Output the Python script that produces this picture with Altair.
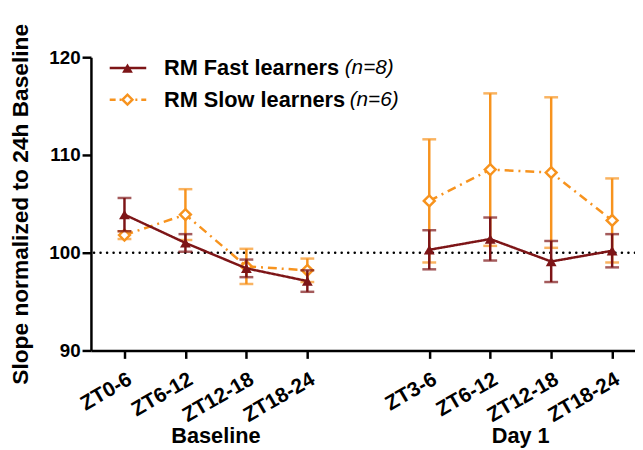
import altair as alt
import pandas as pd

# ---- data ----
positions = [1, 2, 3, 4, 6, 7, 8, 9]
tick_labels = ["ZT0-6", "ZT6-12", "ZT12-18", "ZT18-24", "ZT3-6", "ZT6-12", "ZT12-18", "ZT18-24"]
phases = ["Baseline"] * 4 + ["Day 1"] * 4
fast_mean = [103.9, 101.0, 98.4, 97.1, 100.3, 101.4, 99.1, 100.2]
fast_err = [1.7, 0.9, 0.9, 1.1, 2.0, 2.2, 2.1, 1.7]
slow_mean = [101.8, 103.9, 98.6, 98.2, 105.3, 108.5, 108.2, 103.3]
slow_err = [0.4, 2.6, 1.8, 1.2, 6.3, 7.8, 7.7, 4.3]
series_names = ["RM Fast learners", "RM Slow learners"]
series_n = ["(n=8)", "(n=6)"]
group_names = ["Baseline", "Day 1"]

FAST = "#7d1517"
SLOW = "#f7931e"
FONT = "Liberation Sans"

rows = []
for name, means, errs in [(series_names[0], fast_mean, fast_err), (series_names[1], slow_mean, slow_err)]:
    for p, lab, ph, m, e in zip(positions, tick_labels, phases, means, errs):
        rows.append({"series": name, "pos": p, "label": lab, "phase": ph,
                     "mean": m, "lo": m - e, "hi": m + e})
df = pd.DataFrame(rows)

grp = pd.DataFrame({"phase": group_names,
                    "pos": [sum(p for p, ph in zip(positions, phases) if ph == g) /
                            sum(1 for ph in phases if ph == g) for g in group_names]})

W, H = 551, 297
xmin, xmax = 0.45, 9.375

label_expr = "{" + ",".join(f"'{p}':'{l}'" for p, l in zip(positions, tick_labels)) + "}[datum.value]"

xscale = alt.Scale(domain=[xmin, xmax], nice=False, zero=False)
yscale = alt.Scale(domain=[90, 120], nice=False, zero=False)

xenc = alt.X("pos:Q", scale=xscale,
             axis=alt.Axis(values=positions, labelExpr=label_expr, title=None,
                           labelAngle=-30, labelAlign="right", labelBaseline="top",
                           labelFontSize=21, labelPadding=10, labelOverlap=False, tickSize=8,
                           labelBound=False))
yenc = alt.Y("mean:Q", scale=yscale,
             axis=alt.Axis(values=[90, 100, 110, 120], title="Slope normalized to 24h Baseline",
                           titleFontSize=23, titlePadding=17, labelFontSize=19, labelPadding=2,
                           tickSize=9))

color = alt.Color("series:N", scale=alt.Scale(domain=series_names, range=[FAST, SLOW]), legend=None)
dash = alt.StrokeDash("series:N", scale=alt.Scale(domain=series_names, range=[[1, 0], [9, 5, 2, 5]]),
                      legend=None)

base_layers = []
ref = alt.Chart(pd.DataFrame({"y": [100]})).mark_rule(
    color="black", strokeWidth=2.5, strokeDash=[0.1, 6.5], strokeCap="round"
).encode(y=alt.Y("y:Q", scale=yscale))
base_layers.append(ref)

for name in [series_names[1], series_names[0]]:
    d = df[df.series == name]
    c = alt.Chart(d)
    col = FAST if name == series_names[0] else SLOW
    line = c.mark_line(strokeWidth=2.5).encode(
        x=xenc, y=yenc, detail="phase:N", color=color, strokeDash=dash)
    bars = c.mark_rule(strokeWidth=2.5, color=col).encode(
        x=alt.X("pos:Q", scale=xscale), y=alt.Y("lo:Q", scale=yscale), y2="hi:Q")
    cap_lo = c.mark_tick(orient="horizontal", size=14, thickness=2.5, color=col).encode(
        x=alt.X("pos:Q", scale=xscale), y=alt.Y("lo:Q", scale=yscale))
    cap_hi = c.mark_tick(orient="horizontal", size=14, thickness=2.5, color=col).encode(
        x=alt.X("pos:Q", scale=xscale), y=alt.Y("hi:Q", scale=yscale))
    if name == series_names[0]:
        pts = c.mark_point(shape="triangle-up", filled=True, size=120, color=FAST, opacity=1).encode(
            x=alt.X("pos:Q", scale=xscale), y=alt.Y("mean:Q", scale=yscale))
    else:
        pts = c.mark_point(shape="diamond", filled=True, fill="white", stroke=SLOW, strokeWidth=2.5,
                           size=120, opacity=1).encode(
            x=alt.X("pos:Q", scale=xscale), y=alt.Y("mean:Q", scale=yscale))
    base_layers += [line, bars, cap_lo, cap_hi, pts]

# group labels under the x axis
groups = alt.Chart(grp).mark_text(font=FONT, fontSize=22, fontWeight="bold", color="black",
                                  baseline="alphabetic").encode(
    x=alt.X("pos:Q", scale=xscale), y=alt.value(391), text="phase:N")

# manual legend
legend_layers = []
leg_y = [11, 43]
n_x = [257, 262]
for i, name in enumerate(series_names):
    col = FAST if i == 0 else SLOW
    ld = pd.DataFrame({"t": [name], "n": [series_n[i]]})
    lc = alt.Chart(ld)
    legend_layers.append(lc.mark_rule(color=col, strokeWidth=2.5,
                                      strokeDash=[1, 0] if i == 0 else [6, 4, 2, 4]).encode(
        x=alt.value(19), x2=alt.value(56), y=alt.value(leg_y[i])))
    if i == 0:
        legend_layers.append(lc.mark_point(shape="triangle-up", filled=True, size=120, color=FAST,
                                           opacity=1).encode(x=alt.value(37), y=alt.value(leg_y[i])))
    else:
        legend_layers.append(lc.mark_point(shape="diamond", filled=True, fill="white", stroke=SLOW,
                                           strokeWidth=2.5, size=100, opacity=1).encode(
            x=alt.value(37), y=alt.value(leg_y[i])))
    legend_layers.append(lc.mark_text(font=FONT, fontSize=22, fontWeight="bold", color="black",
                                      align="left", baseline="middle").encode(
        x=alt.value(74), y=alt.value(leg_y[i]), text="t:N"))
    legend_layers.append(lc.mark_text(font=FONT, fontSize=21, fontStyle="italic", color="black",
                                      align="left", baseline="middle").encode(
        x=alt.value(n_x[i]), y=alt.value(leg_y[i]), text="n:N"))

chart = alt.layer(*base_layers, groups, *legend_layers).properties(
    width=W, height=H,
    autosize=alt.AutoSizeParams(type="none"),
    padding={"left": 84, "top": 47, "right": 0, "bottom": 100},
).configure_view(stroke=None).configure_axis(
    grid=False, domainColor="black", domainWidth=2.5, tickColor="black", tickWidth=2.5,
    labelColor="black", labelFont=FONT, labelFontWeight="bold",
    titleFont=FONT, titleFontWeight="bold", titleColor="black"
)

chart.save("out.html", embed_options={"renderer": "svg", "actions": False})
